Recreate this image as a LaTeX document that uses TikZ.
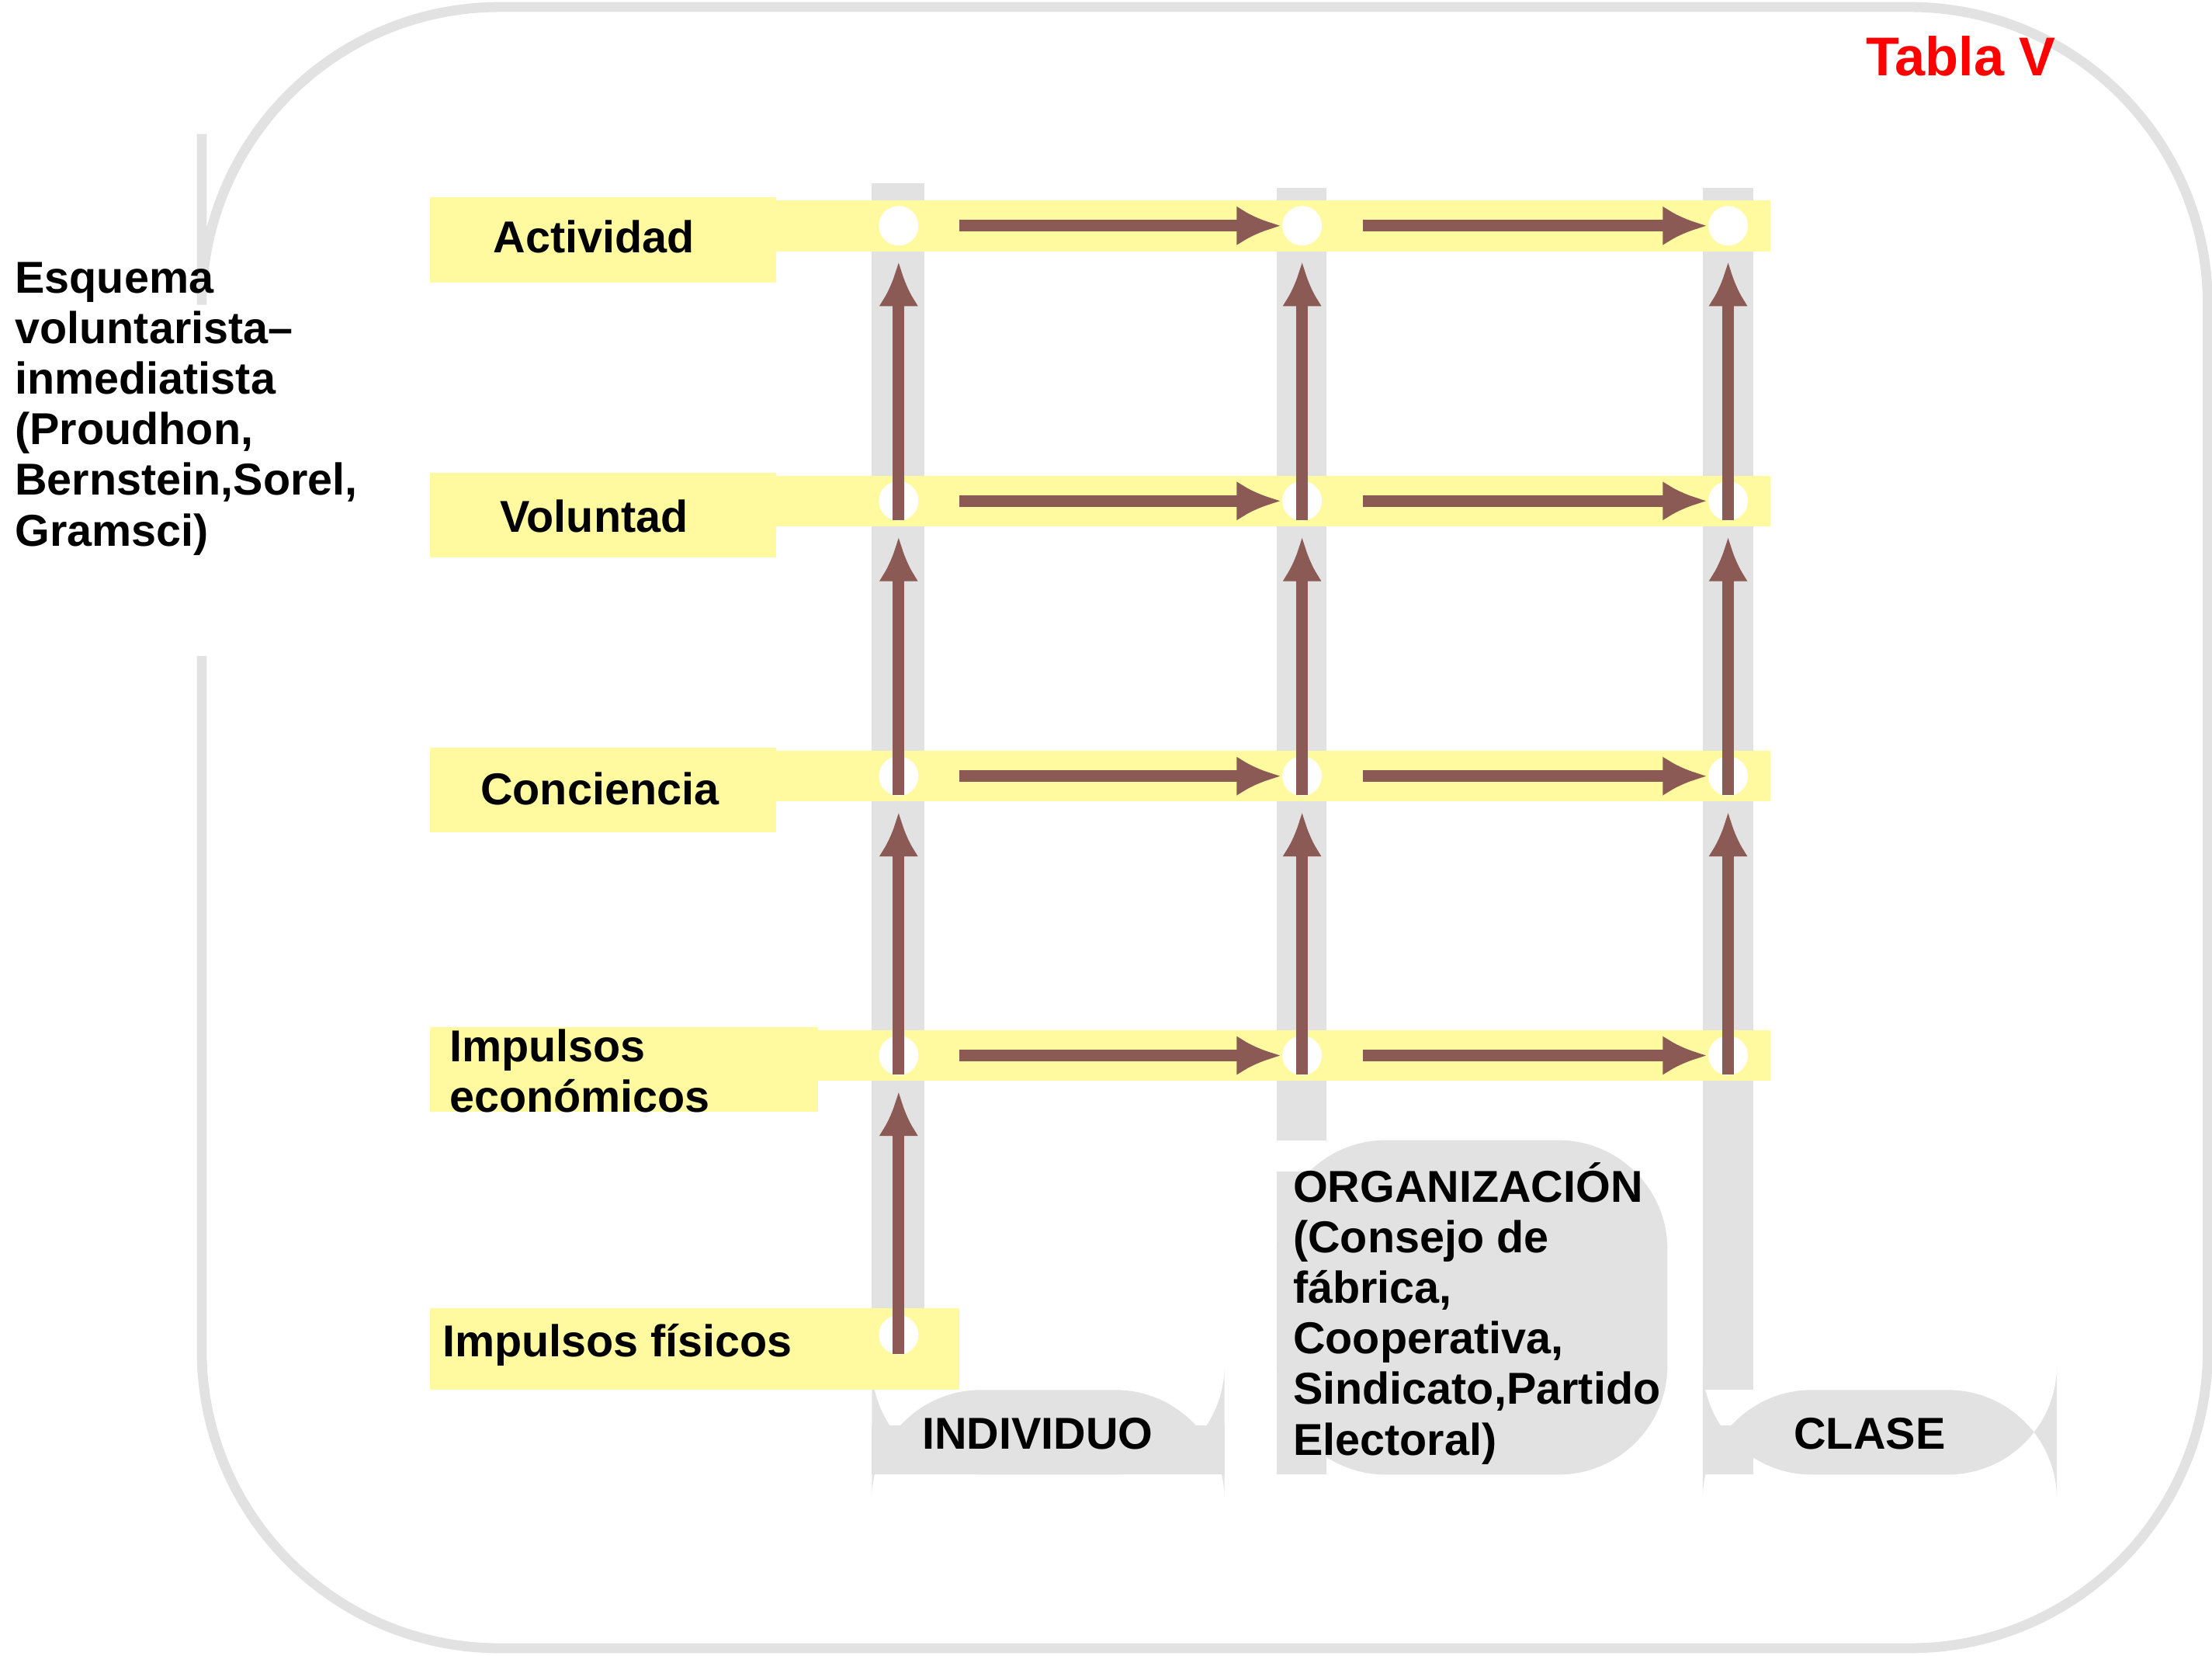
\documentclass[tikz,border=0pt]{standalone}
\usepackage{fontspec}
\setmainfont{Liberation Sans}
\usetikzlibrary{positioning}
\definecolor{band}{RGB}{255,250,160}
\definecolor{bar}{RGB}{226,226,226}
\definecolor{arr}{RGB}{140,90,85}
\tikzset{
  lbl/.style={font=\fontsize{9}{10.2}\selectfont\bfseries, anchor=west, align=left, inner sep=0pt},
  flow/.style={arr, line width=2.4pt, -{Latex[length=9pt,width=8pt]}},
  hole/.style={circle, fill=white, minimum size=0.28cm, inner sep=0pt}
}
\usetikzlibrary{arrows.meta}
\begin{document}
\begin{tikzpicture}[x=0.01cm, y=-0.01cm]
  \useasboundingbox (0,0) rectangle (1568,1173);
  % frame
  \draw[bar, line width=2pt, rounded corners=60] (143,95) -- (143,5) -- (1565,5) -- (1565,1168) -- (143,1168) -- (143,465);
  \node[text=red, font=\fontsize{11}{12}\selectfont\bfseries] (title) at (1390,40) {Tabla V};
  \node[lbl, anchor=north west] (esq) at (10,185) {Esquema\\voluntarista–\\inmediatista\\(Proudhon,\\Bernstein,Sorel,\\Gramsci)};
  % columns
  \fill[bar] (618,130) rectangle (655,985);
  \fill[bar, rounded corners=22] (618,1045) -- (618,985) -- (868,985) -- (868,1045) -- cycle;
  \fill[bar] (618,1010) rectangle (868,1045);
  \fill[bar] (905,133) rectangle (940,808);
  \fill[bar, rounded corners=22] (905,1045) -- (905,808) -- (1182,808) -- (1182,1045) -- cycle;
  \fill[bar] (905,830) rectangle (940,1045);
  \fill[bar] (1207,133) rectangle (1243,985);
  \fill[bar, rounded corners=22] (1207,1045) -- (1207,985) -- (1458,985) -- (1458,1045) -- cycle;
  \fill[bar] (1207,1010) rectangle (1243,1045);
  \node[lbl] (indiv) at (653,1016) {INDIVIDUO};
  \node[lbl, anchor=north west] (org) at (916,823) {ORGANIZACIÓN\\(Consejo de\\fábrica,\\Cooperativa,\\Sindicato,Partido\\Electoral)};
  \node[lbl] (clase) at (1271,1016) {CLASE};
  % bands
  \foreach \y/\t/\w in {160/Actividad/550, 355/Voluntad/550, 550/Conciencia/550, 748/Impulsos\\económicos/580} {
    \fill[band] (305,\y-20) rectangle (\w,\y+40);
    \fill[band] (305,\y-18) rectangle (1255,\y+18);
  }
  \fill[band] (305,927) rectangle (680,985);
  \node[lbl] (act) at (349,168) {Actividad};
  \node[lbl] (vol) at (354,366) {Voluntad};
  \node[lbl] (conc) at (340,559) {Conciencia};
  \node[lbl] (ieco) at (318,759) {Impulsos\\económicos};
  \node[lbl] (ifis) at (313,953) {Impulsos físicos};
  % nodes
  \foreach \r/\y in {a/160, v/355, c/550, e/748} {
    \node[hole] (\r1) at (637,\y) {};
    \node[hole] (\r2) at (923,\y) {};
    \node[hole] (\r3) at (1225,\y) {};
  }
  \node[hole] (f1) at (637,946) {};
  % arrows
  \foreach \r in {a,v,c,e} {
    \draw[flow] ([xshift=8pt]\r1.east) -- (\r2.west);
    \draw[flow] ([xshift=8pt]\r2.east) -- (\r3.west);
  }
  \foreach \lo/\hi in {v/a, c/v, e/c} {
    \foreach \k in {1,2,3}
      \draw[flow] ([yshift=-8pt]\lo\k.north) -- ([yshift=-3pt]\hi\k.south);
  }
  \draw[flow] ([yshift=-8pt]f1.north) -- ([yshift=-3pt]e1.south);
\end{tikzpicture}
\end{document}
